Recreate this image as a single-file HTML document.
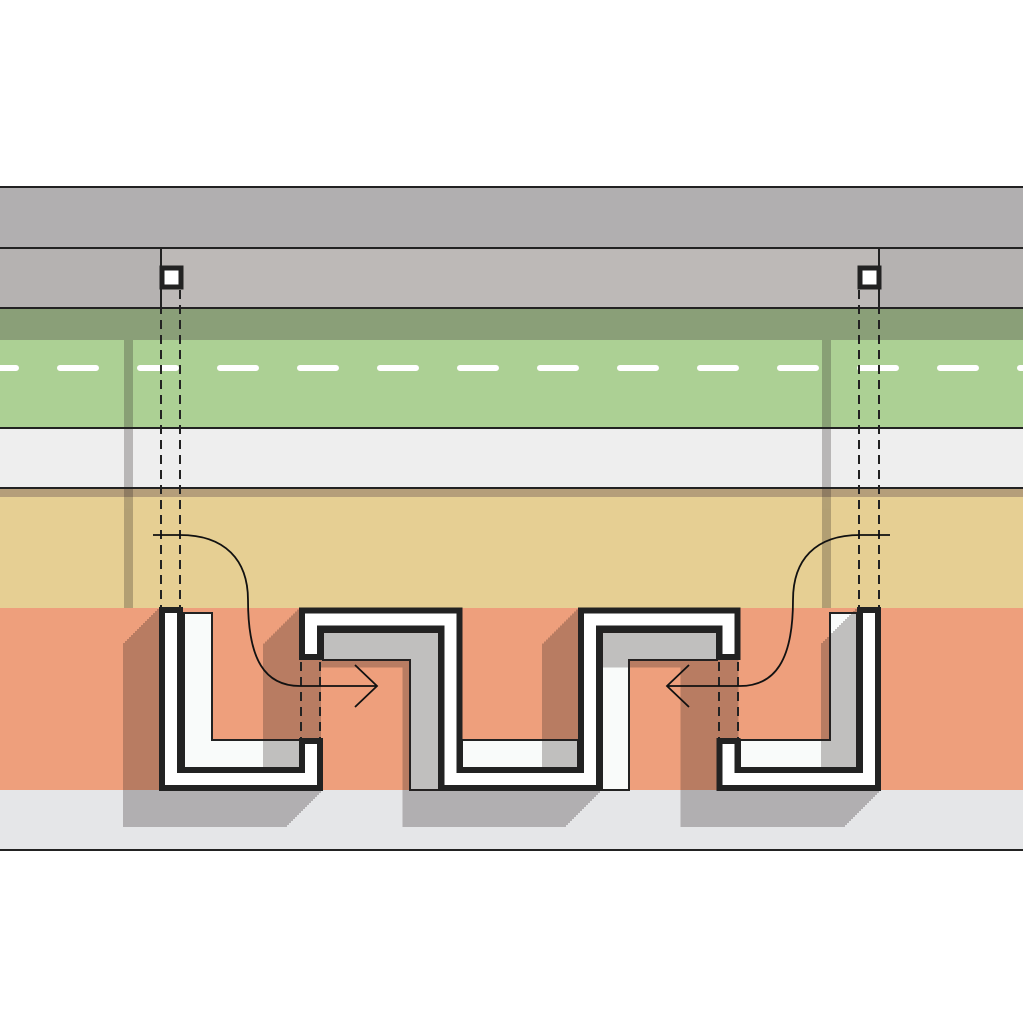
<!DOCTYPE html>
<html><head><meta charset="utf-8"><style>html,body{margin:0;padding:0;background:#fff}svg{display:block}</style></head>
<body>
<svg width="1023" height="1020" viewBox="0 0 1023 1020" xmlns="http://www.w3.org/2000/svg">
<defs>
<g id="sh">
<path d="M171,607 V779 H311 V738"/>
<path d="M311,660 V619.5 H450.5 V779 H590 V619.5 H728.5 V660"/>
<path d="M869,607 V779 H728.5 V738"/>
</g>
<g id="sd">
<path d="M171,607 V779 H311 V619.5 H450.5 V779 H590 V619.5 H728.5 V779 H869 V607"/>
</g>
</defs>
<rect width="1023" height="1020" fill="#fff"/>
<rect x="0" y="187" width="1023" height="61" fill="#b1afb0"/>
<rect x="0" y="248" width="1023" height="60" fill="#b5b2b1"/>
<rect x="161" y="248" width="718" height="60" fill="#bdb9b7"/>
<rect x="0" y="308" width="1023" height="32" fill="#8a9f78"/>
<rect x="0" y="340" width="1023" height="88" fill="#acd094"/>
<line x1="-20" y1="368" x2="1023" y2="368" stroke="#fff" stroke-width="6" stroke-linecap="round" stroke-dasharray="36 44"/>
<rect x="0" y="428" width="1023" height="60" fill="#eeeeee"/>
<rect x="0" y="488" width="1023" height="120" fill="#e6cf93"/>
<rect x="0" y="488" width="1023" height="9" fill="#b59e7a"/>
<rect x="0" y="608" width="1023" height="182" fill="#ee9f7c"/>
<rect x="0" y="790" width="1023" height="60" fill="#e5e6e8"/>
<g fill="#f9fbfa" stroke="#222" stroke-width="2">
<path d="M184,613 H212 V740 H300 V769 H184 Z"/>
<path d="M323,632 H439 V790 H410 V660 H323 Z"/>
<path d="M462,740 H578 V769 H462 Z"/>
<path d="M602,632 H717 V660 H629 V790 H602 Z"/>
<path d="M857,613 H830 V740 H740 V769 H857 Z"/>
</g>
<g opacity="0.27" fill="none" stroke="#2a2020" stroke-width="24" stroke-linejoin="miter">
<rect x="124" y="340" width="9" height="268" fill="#2a2020" stroke="none"/>
<rect x="822" y="340" width="9" height="268" fill="#2a2020" stroke="none"/>
<use href="#sh"/>
<use href="#sd" transform="translate(-2,2)"/>
<use href="#sd" transform="translate(-4,4)"/>
<use href="#sd" transform="translate(-6,6)"/>
<use href="#sd" transform="translate(-8,8)"/>
<use href="#sd" transform="translate(-10,10)"/>
<use href="#sd" transform="translate(-12,12)"/>
<use href="#sd" transform="translate(-14,14)"/>
<use href="#sd" transform="translate(-16,16)"/>
<use href="#sd" transform="translate(-18,18)"/>
<use href="#sd" transform="translate(-20,20)"/>
<use href="#sd" transform="translate(-22,22)"/>
<use href="#sd" transform="translate(-24,24)"/>
<use href="#sd" transform="translate(-26,26)"/>
<use href="#sd" transform="translate(-28,28)"/>
<use href="#sd" transform="translate(-30,30)"/>
<use href="#sd" transform="translate(-32,32)"/>
<use href="#sd" transform="translate(-34,34)"/>
<use href="#sd" transform="translate(-36,36)"/>
</g>
<g fill="none" stroke-linejoin="miter">
<g stroke="#222" stroke-width="24">
<path d="M171,607 V779 H311 V738"/>
<path d="M311,660 V619.5 H450.5 V779 H590 V619.5 H728.5 V660"/>
<path d="M869,607 V779 H728.5 V738"/>
</g>
<g stroke="#fff" stroke-width="12">
<path d="M171,613 V779 H311 V744"/>
<path d="M311,654 V619.5 H450.5 V779 H590 V619.5 H728.5 V654"/>
<path d="M869,613 V779 H728.5 V744"/>
</g>
</g>
<g stroke="#222" stroke-width="2">
<line x1="0" y1="187" x2="1023" y2="187"/>
<line x1="0" y1="248" x2="1023" y2="248"/>
<line x1="0" y1="308" x2="1023" y2="308"/>
<line x1="0" y1="428" x2="1023" y2="428"/>
<line x1="0" y1="488" x2="1023" y2="488"/>
<line x1="0" y1="850" x2="1023" y2="850"/>
<line x1="161" y1="248" x2="161" y2="308"/>
<line x1="879" y1="248" x2="879" y2="308"/>
</g>
<g stroke="#222" stroke-width="2" stroke-dasharray="9 6">
<line x1="161" y1="290" x2="161" y2="607"/>
<line x1="180" y1="290" x2="180" y2="607"/>
<line x1="859" y1="290" x2="859" y2="607"/>
<line x1="879" y1="290" x2="879" y2="607"/>
<line x1="301" y1="662" x2="301" y2="738"/>
<line x1="320" y1="662" x2="320" y2="738"/>
<line x1="719" y1="662" x2="719" y2="738"/>
<line x1="738" y1="662" x2="738" y2="738"/>
</g>
<rect x="162" y="268" width="19" height="19" fill="#fff" stroke="#222" stroke-width="5"/>
<rect x="860" y="268" width="19" height="19" fill="#fff" stroke="#222" stroke-width="5"/>
<g fill="none" stroke="#111" stroke-width="1.8">
<path d="M153,535 H180 C225,535 248,560 248,600 C248,660 265,686 300,686 H377"/>
<path d="M355,665 L377,686 L355,707"/>
<path d="M890,535 H860 C815,535 793,560 793,600 C793,660 775,686 740,686 H667"/>
<path d="M689,665 L667,686 L689,707"/>
</g>
</svg>
</body></html>
